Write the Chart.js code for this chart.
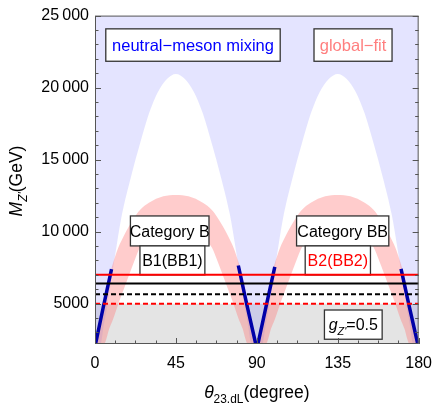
<!DOCTYPE html>
<html>
<head>
<meta charset="utf-8">
<script src="https://cdn.jsdelivr.net/npm/chart.js@4.4.1/dist/chart.umd.min.js"></script>
<style>
  html, body { margin: 0; padding: 0; background: #fff; }
  #wrap { width: 442px; height: 403px; }
</style>
</head>
<body>
<div id="wrap"><canvas id="chart" width="442" height="403"></canvas></div>
<script>
// axes
const xTicks = [0, 45, 90, 135, 180];
const yTicks = [5000, 10000, 15000, 20000, 25000];
const yTickLabels = ['5000', '10\u2009000', '15\u2009000', '20\u2009000', '25\u2009000'];
const yMin = 2200;
const yMax = 25000;

// lower edge of the region kept by neutral-meson mixing (blue above it)
const mixingTheta = [0, 3, 5, 7, 9, 12, 15, 20, 25, 30, 35, 40, 45, 50, 55, 60, 65, 70, 75, 78,
  81, 83, 85, 87, 93, 95, 97, 99, 102, 105, 110, 115, 120, 125, 130, 135, 140, 145, 150, 155,
  160, 165, 168, 171, 173, 175, 177, 180];
const mixingEdge = [2200, 2200, 3600, 5000, 6600, 9000, 11200, 13800, 16100, 18200, 19700, 20600, 20950, 20600, 19700, 18200, 16100, 13800, 11200, 9000,
  6600, 5000, 3600, 2200, 2200, 3600, 5000, 6600, 9000, 11200, 13800, 16100, 18200, 19700, 20600, 20950, 20600, 19700, 18200, 16100,
  13800, 11200, 9000, 6600, 5000, 3600, 2200, 2200];

// global-fit band
const fitTheta = [0, 1, 3, 5, 8, 10, 13, 16, 19, 22, 25, 30, 38, 45, 52, 60, 65, 68, 71, 74, 77, 80, 82, 85, 87, 89, 90,
  91, 93, 95, 98, 100, 103, 106, 109, 112, 115, 120, 128, 135, 142, 150, 155, 158, 161, 164, 167, 170, 172, 175, 177, 179, 180];
const fitUpper = [2200, 2300, 3700, 5000, 6900, 7800, 8900, 9700, 10400, 11000, 11500, 12000, 12450, 12550, 12450, 12000, 11500, 11000, 10400, 9700, 8900, 7800, 6900, 5000, 3700, 2300, 2200,
  2300, 3700, 5000, 6900, 7800, 8900, 9700, 10400, 11000, 11500, 12000, 12450, 12550, 12450, 12000, 11500, 11000, 10400, 9700, 8900, 7800, 6900, 5000, 3700, 2300, 2200];
const fitLower = [2200, 2200, 2200, 2200, 3300, 3900, 5000, 6000, 7000, 8000, 8900, 9500, 9900, 10000, 9900, 9500, 8900, 8000, 7000, 6000, 5000, 3900, 3300, 2200, 2200, 2200, 2200,
  2200, 2200, 2200, 3300, 3900, 5000, 6000, 7000, 8000, 8900, 9500, 9900, 10000, 9900, 9500, 8900, 8000, 7000, 6000, 5000, 3900, 3300, 2200, 2200, 2200, 2200];

// dense points of the mixing scan (dark blue strips)
const denseA = { theta: [0.3, 4.5, 9.2], m: [2200, 4700, 7400] };
const denseB = { theta: [79.7, 84.5, 89.4], m: [7650, 4900, 2200] };
const denseC = { theta: [90.6, 95.3, 100.0], m: [2200, 4900, 7560] };
const denseD = { theta: [170.2, 174.8, 179.5], m: [7420, 4800, 2200] };

// limits
const redLimit = 7000;
const blackLimit = 6400;
const blackDashedLimit = 5650;
const redDashedLimit = 5000;

const pts = (xs, ys) => xs.map((x, i) => ({ x: x, y: ys[i] }));
const font = 'Liberation Sans, Arial, Helvetica, sans-serif';
const clear = 'rgba(0,0,0,0)';

function lineSet(label, y, color, dash, order) {
  return {
    label: label, data: pts([0, 180], [y, y]), borderColor: color, borderWidth: 2,
    borderDash: dash, fill: false, pointRadius: 0, order: order
  };
}
function denseSet(band) {
  return {
    label: 'dense', data: pts(band.theta, band.m), borderColor: '#0000a8', borderWidth: 3.5,
    fill: false, pointRadius: 0, order: 30
  };
}

// draws a string made of styled pieces centred on x
function richText(ctx, pieces, x, y, size, color) {
  const parts = pieces.map(p => {
    const s = p.sub ? size * 0.68 : size;
    const f = (p.italic ? 'italic ' : '') + s + 'px ' + font;
    ctx.font = f;
    return { t: p.t, f: f, w: ctx.measureText(p.t).width, dy: p.sub ? size * 0.28 : 0 };
  });
  const total = parts.reduce((a, p) => a + p.w, 0);
  let cx = x - total / 2;
  ctx.fillStyle = color;
  ctx.textAlign = 'left';
  ctx.textBaseline = 'alphabetic';
  parts.forEach(p => {
    ctx.font = p.f;
    ctx.fillText(p.t, cx, y + p.dy);
    cx += p.w;
  });
}

function labelBox(chart, x0, x1, y0, y1, pieces, color, size) {
  const { ctx, scales: { x, y } } = chart;
  const l = x.getPixelForValue(x0), r = x.getPixelForValue(x1);
  const t = y.getPixelForValue(y1), b = y.getPixelForValue(y0);
  ctx.save();
  ctx.fillStyle = '#fff';
  ctx.fillRect(l, t, r - l, b - t);
  ctx.strokeStyle = '#333';
  ctx.lineWidth = 1.3;
  ctx.strokeRect(l, t, r - l, b - t);
  richText(ctx, pieces, (l + r) / 2, (t + b) / 2 + size * 0.36, size, color);
  ctx.restore();
}

const decorations = {
  id: 'decorations',
  afterDatasetDraw(chart, args) {
    if (chart.data.datasets[args.index].label !== 'global-fit') return;
    labelBox(chart, 6.0, 103.0, 21830, 24080, [{ t: 'neutral\u2212meson mixing' }], '#0000ff', 16.5);
    labelBox(chart, 121.8, 165.2, 21830, 24080, [{ t: 'global\u2212fit' }], '#ff7f7f', 16.5);
    labelBox(chart, 19.7, 63.4, 9010, 11090, [{ t: 'Category B' }], '#000', 16);
    labelBox(chart, 25.0, 61.1, 7000, 9010, [{ t: 'B1(BB1)' }], '#000', 16);
    labelBox(chart, 112.1, 163.4, 9010, 11090, [{ t: 'Category BB' }], '#000', 16);
    labelBox(chart, 116.9, 153.2, 7000, 9010, [{ t: 'B2(BB2)' }], '#ff0000', 16);
    labelBox(chart, 127.6, 159.7, 2530, 4560,
      [{ t: 'g', italic: true }, { t: "Z'", italic: true, sub: true }, { t: '=0.5' }], '#000', 16);
  },
  afterDraw(chart) {
    const { ctx, chartArea: a, scales: { x, y } } = chart;
    ctx.save();
    ctx.strokeStyle = '#555';
    ctx.lineWidth = 1;
    ctx.strokeRect(a.left + 0.5, a.top + 0.5, a.right - a.left - 1, a.bottom - a.top - 1);
    ctx.beginPath();
    for (let v = 0; v <= 180; v += 11.25) {
      const px = Math.round(x.getPixelForValue(v)) + 0.5;
      const len = v % 45 === 0 ? 6 : 3.5;
      ctx.moveTo(px, a.bottom);
      ctx.lineTo(px, a.bottom - len);
    }
    for (let v = 3000; v <= yMax; v += 1000) {
      const py = Math.round(y.getPixelForValue(v)) + 0.5;
      const len = v % 5000 === 0 ? 6 : 3.5;
      ctx.moveTo(a.left, py);
      ctx.lineTo(a.left + len, py);
      ctx.moveTo(a.right, py);
      ctx.lineTo(a.right - len, py);
    }
    ctx.stroke();

    // axis titles
    richText(ctx, [{ t: '\u03b8', italic: true }, { t: '23.dL', sub: true }, { t: '(degree)' }],
      (a.left + a.right) / 2, 398, 17.5, '#000');
    ctx.translate(22, 181);
    ctx.rotate(-Math.PI / 2);
    richText(ctx, [{ t: 'M', italic: true }, { t: "Z'", italic: true, sub: true }, { t: '(GeV)' }],
      0, 0, 17.5, '#000');
    ctx.restore();
  }
};

const ctx = document.getElementById('chart').getContext('2d');
new Chart(ctx, {
  type: 'line',
  data: {
    datasets: [
      {
        label: 'excluded', data: pts([0, 180], [redDashedLimit, redDashedLimit]),
        fill: 'start', backgroundColor: '#e4e4e4', borderColor: clear, borderWidth: 0, pointRadius: 0, order: 60
      },
      {
        label: 'neutral-meson mixing', data: pts(mixingTheta, mixingEdge), fill: 'end',
        backgroundColor: 'rgba(90,90,255,0.16)', borderColor: clear, borderWidth: 0, pointRadius: 0,
        cubicInterpolationMode: 'monotone', order: 50
      },
      {
        label: 'global-fit', data: pts(fitTheta, fitUpper), fill: '+1',
        backgroundColor: 'rgba(255,120,120,0.38)', borderColor: clear, borderWidth: 0, pointRadius: 0,
        cubicInterpolationMode: 'monotone', order: 40
      },
      {
        label: 'global-fit lower', data: pts(fitTheta, fitLower), fill: false,
        borderColor: clear, borderWidth: 0, pointRadius: 0, cubicInterpolationMode: 'monotone', order: 39
      },
      denseSet(denseA),
      denseSet(denseB),
      denseSet(denseC),
      denseSet(denseD),
      lineSet('red', redLimit, '#ff0000', [], 13),
      lineSet('black', blackLimit, '#000', [], 12),
      lineSet('black dashed', blackDashedLimit, '#000', [5, 3], 11),
      lineSet('red dashed', redDashedLimit, '#ff0000', [5, 3], 10)
    ]
  },
  options: {
    responsive: false,
    animation: false,
    events: [],
    layout: { padding: { left: 0, right: 18, top: 15, bottom: 0 } },
    plugins: { legend: { display: false }, tooltip: { enabled: false } },
    scales: {
      x: {
        type: 'linear', min: 0, max: 180,
        afterBuildTicks: s => { s.ticks = xTicks.map(v => ({ value: v })); },
        afterFit: s => { s.height = 59; },
        grid: { display: false, drawTicks: false },
        border: { display: false },
        ticks: { color: '#000', padding: 10, maxRotation: 0, font: { family: font, size: 16 } }
      },
      y: {
        type: 'linear', min: yMin, max: yMax,
        afterBuildTicks: s => { s.ticks = yTicks.map(v => ({ value: v })); },
        afterFit: s => { s.width = 95; },
        grid: { display: false, drawTicks: false },
        border: { display: false },
        ticks: {
          color: '#000', padding: 6, font: { family: font, size: 16 },
          callback: v => yTickLabels[yTicks.indexOf(v)]
        }
      }
    }
  },
  plugins: [decorations]
});
</script>
</body>
</html>
